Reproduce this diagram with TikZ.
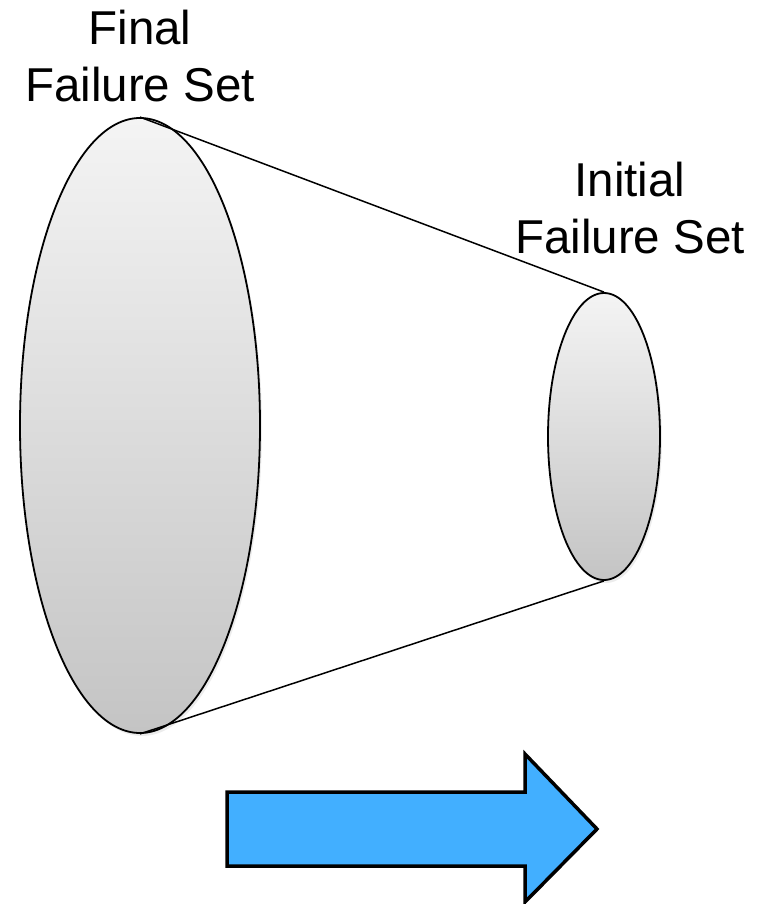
\documentclass[tikz,border=0pt]{standalone}
\usepackage{fontspec}
\setmainfont{Liberation Sans}
\usetikzlibrary{
  shapes.geometric,
  shadows
}
\definecolor{set_top}{RGB}{244, 244, 244}
\definecolor{set_bottom}{RGB}{196, 196, 196}
\definecolor{flow_blue}{RGB}{66, 175, 255}

\begin{document}
\begin{tikzpicture}[
    x=1pt, y=-1pt,
    % Styles
    font=\fontsize{47.5}{57}\selectfont,
    line width=1.5pt,
    set/.style={
        ellipse,
        draw=black,
        line width=1.8pt,
        top color=set_top,
        bottom color=set_bottom,
        inner sep=0pt,
        drop shadow={opacity=0.15, shadow xshift=2pt, shadow yshift=-3pt}
    },
    setlabel/.style={
        align=center,
        inner sep=0pt,
        anchor=base
    },
    blockarrow/.style={
        draw=black,
        fill=flow_blue,
        line width=3.5pt,
        line join=miter
    }
]
\useasboundingbox (0,0) rectangle (761,904);

% --- SETS ---
\node[set, minimum width=240, minimum height=615] (final) at (140,425.5) {};
\node[set, minimum width=112, minimum height=287] (initial) at (604,436.5) {};

% outline of the cone between both sets
\draw (final.north) -- (initial.north);
\draw (final.south) -- (initial.south);

% --- LABELS ---
% (base anchor sits on the last line)
\node[setlabel] (finallabel) at (140,102) {Final\\Failure Set};
\node[setlabel] (initiallabel) at (630,253) {Initial\\Failure Set};

% --- DIRECTION ---
\draw[blockarrow] (227,792) -- (525,792) -- (525,754) -- (597,829)
    -- (525,902) -- (525,866) -- (227,866) -- cycle;

\end{tikzpicture}
\end{document}
